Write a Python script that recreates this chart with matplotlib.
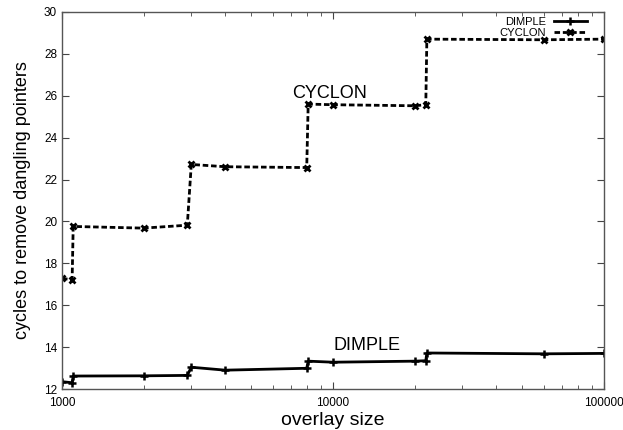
import matplotlib
matplotlib.use("Agg")
import matplotlib.pyplot as plt
from matplotlib.ticker import FixedLocator, NullFormatter

plt.rcParams['font.family'] = ['Liberation Sans', 'DejaVu Sans']

# overlay sizes and measured cycles
dimple_x = [1000, 1090, 1100, 2000, 2900, 3000, 4000, 8000, 8100, 10000, 20000, 22000, 22200, 60000, 100000]
dimple_y = [12.35, 12.3, 12.62, 12.63, 12.65, 13.04, 12.9, 12.99, 13.33, 13.28, 13.33, 13.35, 13.72, 13.68, 13.7]

cyclon_x = [1000, 1090, 1100, 2000, 2900, 3000, 4000, 8000, 8100, 10000, 20000, 22000, 22200, 60000, 100000]
cyclon_y = [17.28, 17.22, 19.76, 19.68, 19.82, 22.72, 22.61, 22.57, 25.6, 25.57, 25.52, 25.57, 28.7, 28.67, 28.7]

fig = plt.figure(figsize=(6.23, 4.30), dpi=100)
ax = fig.add_axes([0.0995, 0.0953, 0.870, 0.877])

ax.plot(dimple_x, dimple_y, color='black', lw=2.0, marker='+', ms=6, mew=1.8, label='DIMPLE')
ax.plot(cyclon_x, cyclon_y, color='black', lw=2.0, ls=(0, (2, 1)), marker='x', ms=5, mew=2.0, label='CYCLON')

ax.set_xscale('log')
ax.set_xlim(1000, 100000)
ax.set_ylim(12, 30)
ax.set_yticks(range(12, 31, 2))
ax.xaxis.set_major_locator(FixedLocator([1000, 10000, 100000]))
ax.set_xticklabels(['1000', '10000', '100000'])
ax.xaxis.set_minor_formatter(NullFormatter())

ax.tick_params(which='both', direction='in', top=True, right=True, labelsize=8.5, color='#444444')
ax.tick_params(which='major', length=5)
ax.tick_params(which='minor', length=3)
ax.tick_params(axis='x', pad=6)
for s in ax.spines.values():
    s.set_color('#555555')
    s.set_linewidth(1.0)

ax.set_xlabel('overlay size', fontsize=14, labelpad=2)
ax.set_ylabel('cycles to remove dangling pointers', fontsize=13, labelpad=9)

ax.text(9700, 26.1, 'CYCLON', fontsize=13, ha='center', va='center')
ax.text(13300, 14.1, 'DIMPLE', fontsize=13, ha='center', va='center')

ax.legend(loc='upper right', bbox_to_anchor=(0.977, 0.998), frameon=False, fontsize=8,
          handlelength=3.0, numpoints=1, labelspacing=0.05, borderaxespad=0,
          markerfirst=False, handletextpad=0.7)

fig.savefig('out.png', dpi=100)
